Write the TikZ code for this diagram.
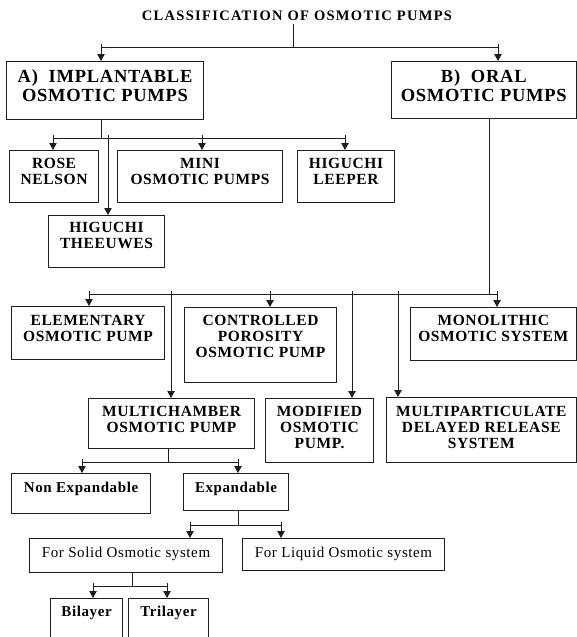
\documentclass[tikz,border=0pt]{standalone}
\usepackage{fontspec}
\setmainfont{Liberation Serif}
\newfontfamily\titlefam[LetterSpace=9]{Liberation Serif}
\newfontfamily\bigfam[LetterSpace=4]{Liberation Serif}
\newfontfamily\medfam[LetterSpace=4]{Liberation Serif}
\newfontfamily\lowfam[LetterSpace=4]{Liberation Serif}
\newfontfamily\regfam[LetterSpace=4]{Liberation Serif}
\usetikzlibrary{arrows.meta}
\tikzset{
  boxst/.style={draw=black!88, line width=1.1pt, inner sep=0pt, rectangle},
  titletxt/.style={font=\titlefam\bfseries\fontsize{14.5}{16}\selectfont, inner sep=0pt},
  bigtxt/.style={font=\bigfam\bfseries\fontsize{18.5}{19}\selectfont, align=center, inner sep=0pt},
  medtxt/.style={font=\medfam\bfseries\fontsize{15.5}{16}\selectfont, align=center, inner sep=0pt},
  lowtxt/.style={font=\lowfam\bfseries\fontsize{15}{16}\selectfont, align=center, inner sep=0pt},
  regtxt/.style={font=\regfam\fontsize{15}{16}\selectfont, align=center, inner sep=0pt},
  ln/.style={draw=black!88, line width=1pt},
  arr/.style={ln, -{Triangle[width=7.5pt,length=7pt]}, shorten <=-3pt},
}
% #1 name, #2 x1, #3 y1, #4 x2, #5 y2, #6 text style, #7 text offset, #8 text
\newcommand\bbox[8]{%
  \pgfmathsetmacro\bxw{#4-#2}\pgfmathsetmacro\bxh{#5-#3}%
  \node[boxst, minimum width=\bxw pt, minimum height=\bxh pt, anchor=north west] (#1) at (#2,#3) {};
  \node[#6, anchor=north] (#1t) at ([yshift=-#7pt]#1.north) {#8};
}
\begin{document}
\begin{tikzpicture}[x=1pt,y=-1pt]
\useasboundingbox (0,0) rectangle (577,637);
\clip (0,0) rectangle (577,637);

\node[titletxt] (title) at (297,16) {CLASSIFICATION OF OSMOTIC PUMPS};

\bbox{A}{6}{61}{203}{119}{bigtxt}{8.5}{A)~ IMPLANTABLE\\OSMOTIC PUMPS}
\bbox{B}{391}{61}{575.5}{118}{bigtxt}{8.5}{B)~ ORAL\\OSMOTIC PUMPS}

\bbox{rose}{9}{150}{98}{202}{medtxt}{7.9}{ROSE\\NELSON}
\bbox{mini}{117}{150}{282}{202}{medtxt}{7.9}{MINI\\OSMOTIC PUMPS}
\bbox{leeper}{297}{150}{394}{202}{medtxt}{7.9}{HIGUCHI\\LEEPER}
\bbox{theeu}{48}{215}{164}{267}{medtxt}{7}{HIGUCHI\\THEEUWES}

\bbox{elem}{11}{306}{164}{359}{medtxt}{8.6}{ELEMENTARY\\OSMOTIC PUMP}
\bbox{ctrl}{184}{307}{336}{382}{medtxt}{7.9}{CONTROLLED\\POROSITY\\OSMOTIC PUMP}
\bbox{mono}{410}{307}{575.5}{360}{medtxt}{7.9}{MONOLITHIC\\OSMOTIC SYSTEM}
\bbox{multich}{88}{398}{254}{448}{medtxt}{7.9}{MULTICHAMBER\\OSMOTIC PUMP}
\bbox{modif}{265}{398}{373}{462}{medtxt}{7.9}{MODIFIED\\OSMOTIC\\PUMP.}
\bbox{multip}{386}{397}{575.5}{462}{medtxt}{8.6}{MULTIPARTICULATE\\DELAYED RELEASE\\SYSTEM}

\bbox{nonexp}{11}{473}{150}{513}{lowtxt}{8.5}{Non Expandable}
\bbox{exp}{183}{473}{288}{510}{lowtxt}{8.5}{Expandable}
\bbox{solid}{29}{538}{222}{572}{regtxt}{8.5}{For Solid Osmotic system}
\bbox{liquid}{242}{538}{444}{570}{regtxt}{8.5}{For Liquid Osmotic system}
\bbox{bil}{50}{598}{122}{645}{lowtxt}{7.5}{Bilayer}
\bbox{tril}{128}{598}{208}{645}{lowtxt}{7.5}{Trilayer}

% level 1
\coordinate (j1) at (293,47);
\coordinate (jA) at (101,47);
\coordinate (jB) at (498,47);
\draw[ln, shorten <=2.5pt] (title.south -| j1) -- (j1);
\draw[ln] (jA) -- (jB);
\draw[arr] (jA) -- (jA |- A.north);
\draw[arr] (jB) -- (jB |- B.north);

% level 2
\coordinate (k0) at (101,138);
\coordinate (k1) at (53,138);
\coordinate (k2) at (108,138);
\coordinate (k3) at (202,138);
\coordinate (k4) at (345,138);
\draw[ln] (A.south -| k0) -- (k0);
\draw[ln] (k1) -- (k4);
\draw[arr] (k1) -- (k1 |- rose.north);
\draw[arr] (k2) -- (k2 |- theeu.north);
\draw[arr] (k3) -- (k3 |- mini.north);
\draw[arr] (k4) -- (k4 |- leeper.north);

% level 3
\coordinate (m0) at (489,294);
\coordinate (e1) at (89,294);
\coordinate (e2) at (171,294);
\coordinate (e3) at (270,294);
\coordinate (e4) at (352,294);
\coordinate (e5) at (398,294);
\coordinate (e6) at (497,294);
\draw[ln] (B.south -| m0) -- (m0);
\draw[ln] (e1) -- (e6);
\draw[arr] (e1) -- (e1 |- elem.north);
\draw[arr] (e2) -- (e2 |- multich.north);
\draw[arr] (e3) -- (e3 |- ctrl.north);
\draw[arr] (e4) -- (e4 |- modif.north);
\draw[arr] (e5) -- (e5 |- multip.north);
\draw[arr] (e6) -- (e6 |- mono.north);

% level 4
\coordinate (n0) at (168,462);
\coordinate (n1) at (82,462);
\coordinate (n2) at (238,462);
\draw[ln] (multich.south -| n0) -- (n0);
\draw[ln] (n1) -- (n2);
\draw[arr] (n1) -- (n1 |- nonexp.north);
\draw[arr] (n2) -- (n2 |- exp.north);

% level 5
\coordinate (p0) at (238,525);
\coordinate (p1) at (190,525);
\coordinate (p2) at (281,525);
\draw[ln] (exp.south -| p0) -- (p0);
\draw[ln] (p1) -- (p2);
\draw[arr] (p1) -- (p1 |- solid.north);
\draw[arr] (p2) -- (p2 |- liquid.north);

% level 6
\coordinate (q0) at (132,586);
\coordinate (q1) at (93,586);
\coordinate (q2) at (167,586);
\draw[ln] (solid.south -| q0) -- (q0);
\draw[ln] (q1) -- (q2);
\draw[arr] (q1) -- (q1 |- bil.north);
\draw[arr] (q2) -- (q2 |- tril.north);
\end{tikzpicture}
\end{document}
